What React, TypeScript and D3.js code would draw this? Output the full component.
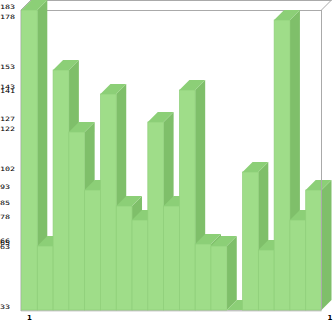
import React from "react";
import * as d3 from "d3";

const categories = ["1","2","3","4","5","6","7","8","9","10","11","12","13","14","15","16","17","18","19"];
const values = [183, 65, 153, 122, 93, 141, 85, 78, 127, 85, 143, 66, 65, 33, 102, 63, 178, 78, 93];
const xLabels = ["1"];
const seriesLabels = ["1"];

const W = 333, H = 321;
const left = 21.5, right = 321.5, top = 10, bottom = 310, depth = 10;

export default function App() {
  const x = d3.scaleBand<string>().domain(categories).range([left, right]).padding(0);
  const yMin = d3.min(values) as number;
  const yMax = d3.max(values) as number;
  const y = d3.scaleLinear().domain([yMin, yMax]).range([bottom, top]);
  const ticks = Array.from(new Set(values)).sort((a, b) => b - a);
  const bw = x.bandwidth();
  const gray = "#aaaaaa";
  const front = "#9fdd89";
  const side = "#7fbf6a";
  const topc = "#8ccf77";
  const edge = "#8fcf7a";
  return (
    <svg width={W} height={H} style={{ position: "absolute", left: 0, top: 0, background: "#fff" }}>
      <line x1={left - 0.5 + depth} y1={top - depth + 0.5} x2={right + depth} y2={top - depth + 0.5} stroke={gray} />
      <line x1={left - 0.5} y1={top} x2={left - 0.5 + depth} y2={top - depth} stroke={gray} />
      <line x1={right} y1={top} x2={right + depth} y2={top - depth} stroke={gray} />
      <line x1={left - 0.5} y1={top + 0.5} x2={right} y2={top + 0.5} stroke={gray} />
      <line x1={left - 0.5} y1={top} x2={left - 0.5} y2={bottom + 1} stroke={gray} />
      <line x1={left - 0.5} y1={bottom + 0.8} x2={right} y2={bottom + 0.8} stroke={gray} />
      {values.map((v, i) => {
        const c = categories[i];
        const x0 = x(c) as number;
        const x1 = x0 + bw;
        const yt = y(v);
        const yb = y(yMin);
        return (
          <g key={c}>
            <polygon
              points={`${x1},${yt} ${x1 + depth},${yt - depth} ${x1 + depth},${yb - depth} ${x1},${yb}`}
              fill={side}
            />
            <polygon
              points={`${x0},${yt} ${x1},${yt} ${x1 + depth},${yt - depth} ${x0 + depth},${yt - depth}`}
              fill={topc}
            />
            <rect x={x0} y={yt} width={bw} height={yb - yt} fill={front} stroke={edge} strokeWidth={0.7} />
          </g>
        );
      })}
      <line x1={right} y1={top} x2={right} y2={bottom} stroke={gray} />
      {ticks.map((t) => (
        <text
          key={t}
          transform={`translate(0,${y(t) - 1}) scale(1.05,0.75)`}
          fontFamily="DejaVu Sans Mono"
          fontSize={8}
          fill="#000"
        >
          {t}
        </text>
      ))}
      {xLabels.map((l) => (
        <text
          key={"x" + l}
          x={(x(l) as number) + bw / 2}
          y={320}
          textAnchor="middle"
          fontFamily="DejaVu Sans"
          fontWeight="bold"
          fontSize={7}
          fill="#000"
        >
          {l}
        </text>
      ))}
      {seriesLabels.map((l) => (
        <text
          key={"s" + l}
          x={right + 8.5}
          y={320}
          textAnchor="middle"
          fontFamily="DejaVu Sans"
          fontWeight="bold"
          fontSize={7}
          fill="#000"
        >
          {l}
        </text>
      ))}
    </svg>
  );
}
